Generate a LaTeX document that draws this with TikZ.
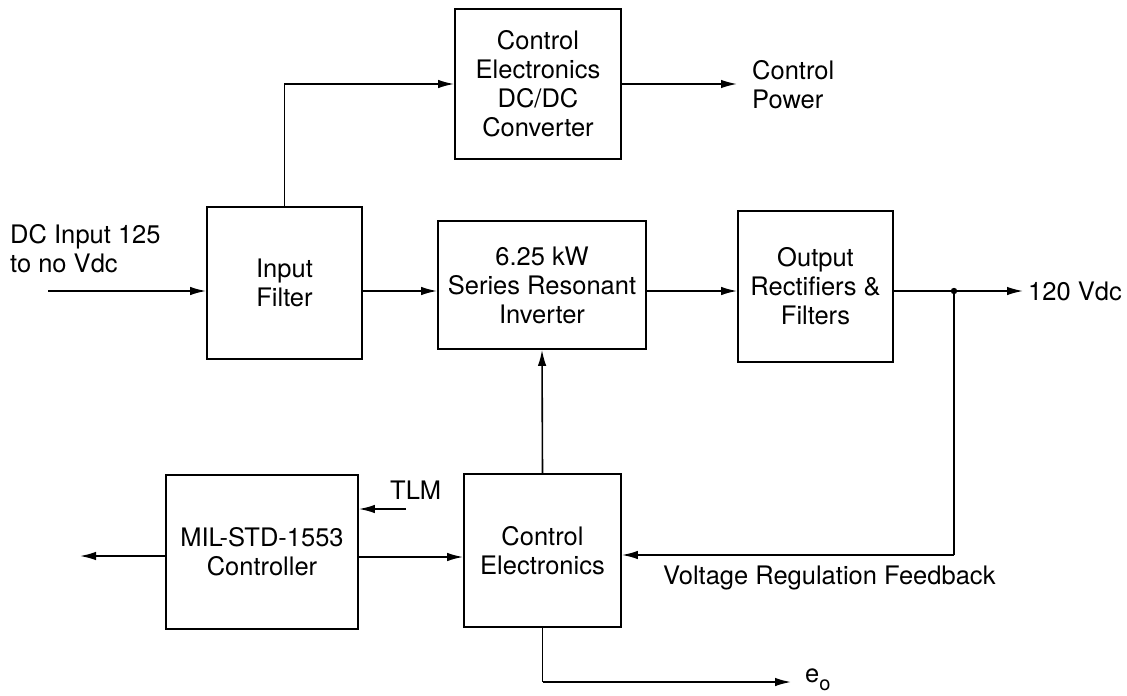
\documentclass[tikz,border=0pt]{standalone}
\usepackage{fontspec}
\setmainfont{TeX Gyre Heros}
\usetikzlibrary{arrows.meta}
\begin{document}
\begin{tikzpicture}[x=1pt,y=-1pt,
  every node/.style={font=\fontsize{25.5}{29}\selectfont},
  blk/.style={draw,line width=1.8pt,align=center,inner sep=0pt},
  wire/.style={line width=1.6pt},
  arr/.style={line width=1.6pt,-{Latex[length=16pt,width=8.5pt]}},
  lbl/.style={align=left,inner sep=0pt}]
\useasboundingbox (0,0) rectangle (1127,696);
% boxes
\node[blk,minimum width=166pt,minimum height=150pt] (dcdc) at (538,84) {Control\\Electronics\\DC/DC\\Converter};
\node[blk,minimum width=155pt,minimum height=152pt] (filt) at (284.5,283) {Input\\Filter};
\node[blk,minimum width=208pt,minimum height=128pt] (inv) at (542,285) {6.25 kW\\Series Resonant\\Inverter};
\node[blk,minimum width=155pt,minimum height=151pt] (out) at (815.5,286.5) {Output\\Rectifiers \&\\Filters};
\node[blk,minimum width=192pt,minimum height=154pt] (mil) at (262,552) {MIL-STD-1553\\Controller};
\node[blk,minimum width=157pt,minimum height=153pt] (ce) at (542.5,550.5) {Control\\Electronics};
% coordinates
\coordinate (inA) at (48,291);
\coordinate (cpw) at (737,84);
\coordinate (vout) at (1023,291);
\coordinate (jn) at (954,291);
\coordinate (busL) at (80,556);
\coordinate (tlmS) at (406,509);
\coordinate (eoE) at (791,682);
% labels
\node[lbl,anchor=west] (dcin) at (10,249) {DC Input 125\\to no Vdc};
\node[lbl,anchor=west] (cptxt) at (752,85) {Control\\Power};
\node[lbl,anchor=west] (v120) at (1028,291) {120 Vdc};
\node[lbl,anchor=west] (tlm) at (390,490) {TLM};
\node[lbl,anchor=west] (vrf) at (663,578) {Voltage Regulation Feedback};
\node[lbl,anchor=west] (eo) at (805,680) {e\raisebox{-0.3em}{\fontsize{20}{20}\selectfont o}};
% connectors
\draw[arr] (inA) -- (inA -| filt.west);
\draw[arr] (filt.north) |- (dcdc.west);
\draw[arr] (dcdc.east) -- (cpw);
\draw[arr] (filt.east |- inA) -- (inv.west |- inA);
\draw[arr] (inv.east |- inA) -- (out.west |- inA);
\draw[arr] (out.east |- inA) -- (vout);
\fill (jn) circle (3.2pt);
\draw[wire] (jn) -- (jn |- 0,555) coordinate (jd);
\draw[arr] (jd) -- (ce.east |- jd);
\draw[arr] (ce.north) -- (inv.south);
\draw[arr] (tlmS) -- (tlmS -| mil.east);
\draw[arr] (mil.east |- 0,557) -- (ce.west |- 0,557);
\draw[arr] (mil.west |- busL) -- (busL);
\draw[wire] (ce.south) -- (ce.south |- eoE);
\draw[arr] (ce.south |- eoE) -- (eoE);
\end{tikzpicture}
\end{document}
